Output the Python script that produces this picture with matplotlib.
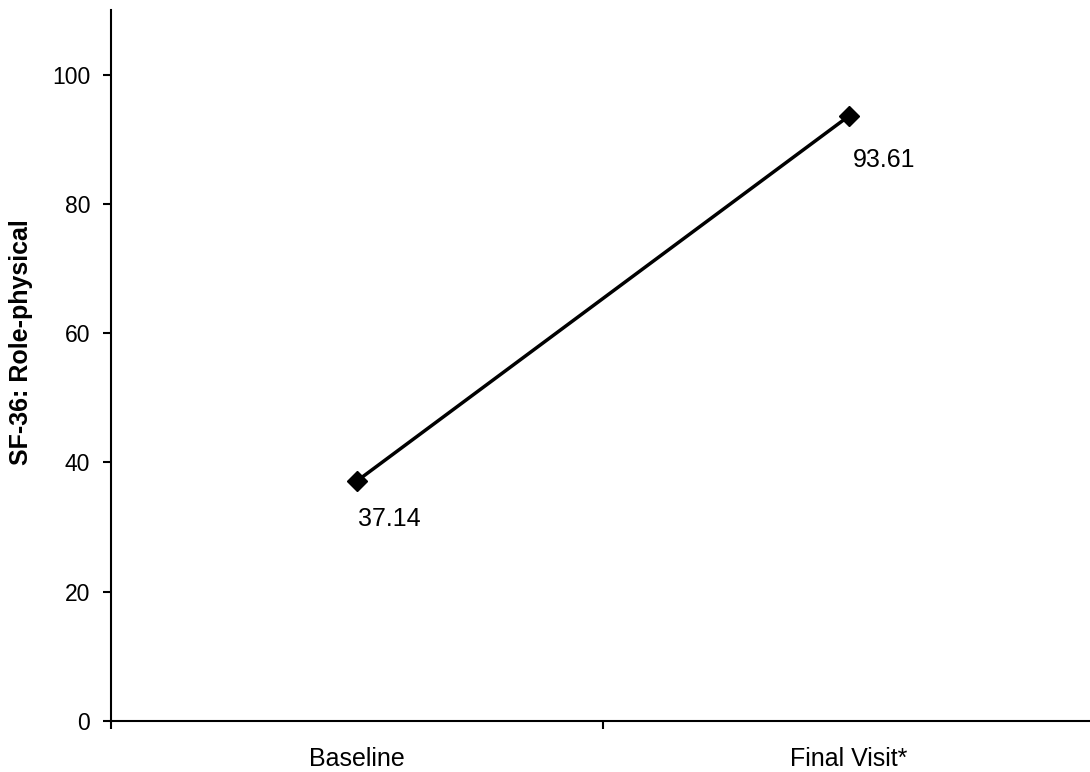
import matplotlib
matplotlib.use("Agg")
import matplotlib.pyplot as plt

categories = ["Baseline", "Final Visit*"]
values = [37.14, 93.61]
value_labels = ["37.14", "93.61"]
yticks = [0, 20, 40, 60, 80, 100]

plt.rcParams['font.family'] = ['Liberation Sans', 'DejaVu Sans']

fig = plt.figure(figsize=(10.9, 7.72), dpi=100)
ax = fig.add_axes([111/1090, 1-721/772, 984/1090, 711/772])

xpos = [0.5 + i for i in range(len(categories))]
ax.plot(xpos, values, color='black', lw=2.5, marker='D', markersize=10,
        markerfacecolor='black', markeredgecolor='black', clip_on=False)

label_offsets = [(1, -19), (3, -23)]
for x, v, lab, off in zip(xpos, values, value_labels, label_offsets):
    ax.annotate(lab, (x, v), xytext=off, textcoords='offset points',
                ha='left', va='top', fontsize=18)

ax.set_xlim(0, 2)
ax.set_ylim(0, 110)
ax.set_yticks(yticks)
ax.set_yticklabels([str(t) for t in yticks], fontsize=16.5)
ax.set_xticks([0, 1, 2])
ax.set_xticklabels([])
ax.set_xticks(xpos, minor=True)
ax.set_xticklabels(categories, minor=True, fontsize=18)
ax.tick_params(axis='x', which='minor', length=0, pad=19)
ax.tick_params(axis='x', which='major', direction='out', length=6, width=1.5)
ax.tick_params(axis='y', direction='out', length=6, width=1.5, pad=9)

for s in ['top', 'right']:
    ax.spines[s].set_visible(False)
for s in ['left', 'bottom']:
    ax.spines[s].set_linewidth(1.5)

ax.set_ylabel("SF-36: Role-physical", fontsize=18, fontweight='bold')
ax.yaxis.set_label_coords(-0.079, 0.533)

fig.savefig("out.png", dpi=100)
